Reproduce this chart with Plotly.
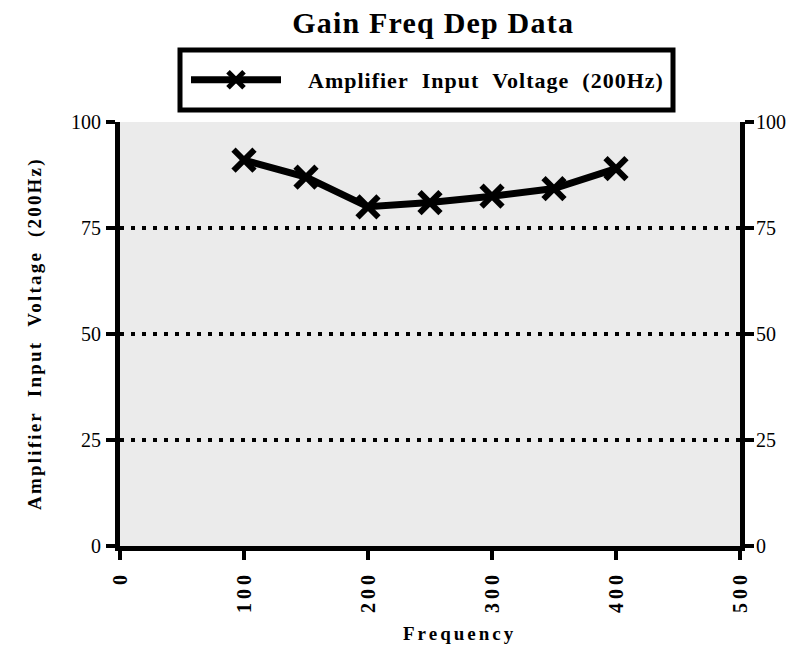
import plotly.graph_objects as go

# Measured amplifier input voltage (200 Hz reference) against frequency
freq = [100, 150, 200, 250, 300, 350, 400]
voltage = [91.0, 87.0, 80.0, 81.0, 82.5, 84.3, 89.0]

x_ticks = [0, 100, 200, 300, 400, 500]
y_ticks = [0, 25, 50, 75, 100]
grid_levels = [25, 50, 75]

SERIF = "Liberation Serif, Times New Roman, serif"

W, H = 787, 649
L, R, T, B = 120, 47, 122, 103
plot_w = W - L - R
plot_h = H - T - B


def px_x(px):
    return (px - L) / plot_w


def px_y(py):
    return (H - B - py) / plot_h


def spaced(text, ls):
    return f'<span style="letter-spacing:{ls}px">{text}</span>'


NB = "\u00a0"
series_name = NB * 4 + spaced(f"Amplifier{NB*2}Input{NB*2}Voltage{NB*2}(200Hz)", 1)

fig = go.Figure()

fig.add_trace(go.Scatter(
    x=freq, y=voltage, name=series_name,
    mode="lines+markers",
    line=dict(color="black", width=7),
    marker=dict(symbol="x-thin", size=21, color="black",
                line=dict(color="black", width=6)),
))
# empty trace so the right-hand axis gets drawn
fig.add_trace(go.Scatter(x=[], y=[], yaxis="y2", showlegend=False,
                         hoverinfo="skip"))

shapes = []
for g in grid_levels:
    shapes.append(dict(type="line", xref="paper", yref="y", x0=0, x1=1,
                       y0=g, y1=g, layer="below",
                       line=dict(color="black", width=4, dash="4px,7px")))
# legend frame
shapes.append(dict(type="rect", xref="paper", yref="paper",
                   x0=px_x(180), x1=px_x(673), y0=px_y(110), y1=px_y(50),
                   line=dict(color="black", width=5), fillcolor="white"))

axis_common = dict(
    showline=True, linecolor="black", linewidth=5,
    ticks="outside", ticklen=9, tickwidth=4, tickcolor="black",
    showgrid=False, zeroline=False, automargin=False,
)

fig.update_layout(
    width=W, height=H,
    margin=dict(l=L, r=R, t=T, b=B, autoexpand=False),
    paper_bgcolor="white",
    plot_bgcolor="#ebebeb",
    font=dict(family=SERIF, color="black"),
    showlegend=True,
    legend=dict(
        x=px_x(186), y=px_y(80), xanchor="left", yanchor="middle",
        orientation="h", bgcolor="rgba(0,0,0,0)", borderwidth=0,
        font=dict(family=SERIF, size=22, color="black", weight="bold"),
        itemwidth=90,
    ),
    title=dict(
        text=spaced("Gain Freq Dep Data", 1.2),
        x=0.5 * (L + W - R) / W + 0.004, xanchor="center",
        y=1 - 22 / H, yanchor="middle",
        font=dict(family=SERIF, size=30, color="black", weight="bold"),
    ),
    xaxis=dict(
        range=[0, 500], tickvals=x_ticks,
        ticktext=[spaced(str(v), 4) for v in x_ticks],
        tickangle=-90,
        tickfont=dict(family=SERIF, size=20, color="black", weight="bold"),
        ticklabelstandoff=3,
        **axis_common,
    ),
    yaxis=dict(
        range=[0, 100], tickvals=y_ticks,
        tickfont=dict(family=SERIF, size=20, color="black"),
        ticklabelstandoff=1,
        **axis_common,
    ),
    yaxis2=dict(
        range=[0, 100], tickvals=y_ticks, overlaying="y", side="right",
        tickfont=dict(family=SERIF, size=20, color="black"),
        ticklabelstandoff=-2,
        **axis_common,
    ),
    shapes=shapes,
    annotations=[
        dict(text=spaced("Frequency", 3), xref="paper", yref="paper",
             x=px_x(459), y=px_y(633), xanchor="center", yanchor="middle",
             showarrow=False,
             font=dict(family=SERIF, size=19, color="black", weight="bold")),
        dict(text=spaced(f"Amplifier{NB*2}Input{NB*2}Voltage{NB*2}(200Hz)", 2.2),
             xref="paper", yref="paper", textangle=-90,
             x=px_x(35), y=0.5, xanchor="center", yanchor="middle",
             showarrow=False,
             font=dict(family=SERIF, size=19, color="black", weight="bold")),
    ],
)

fig.write_html("out.html")
